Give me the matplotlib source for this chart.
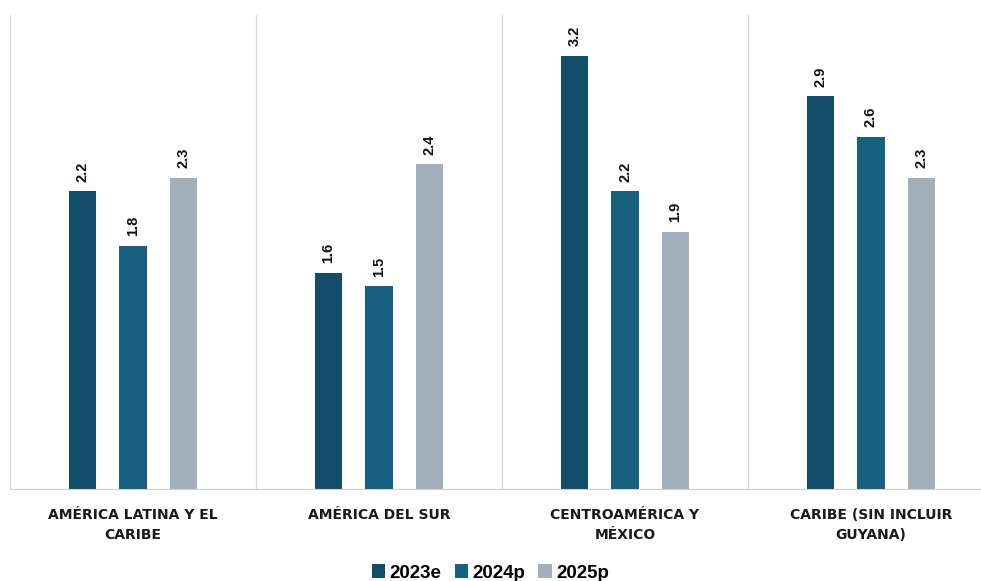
import numpy as np
import matplotlib.pyplot as plt
from matplotlib.patches import Patch

categories = ["AMÉRICA LATINA Y EL\nCARIBE", "AMÉRICA DEL SUR",
              "CENTROAMÉRICA Y\nMÉXICO", "CARIBE (SIN INCLUIR\nGUYANA)"]
series_names = ["2023e", "2024p", "2025p"]
values_2023e = [2.2, 1.6, 3.2, 2.9]
values_2024p = [1.8, 1.5, 2.2, 2.6]
values_2025p = [2.3, 2.4, 1.9, 2.3]
colors = ["#124e69", "#17607f", "#a3afbb"]


def main():
  plt.rcParams['font.family'] = ['Liberation Sans', 'DejaVu Sans']
  fig = plt.figure(figsize=(9.81, 5.81), dpi=100)
  ax = fig.add_axes([10 / 981, 91 / 581, 984 / 981, 475 / 581])

  x = np.arange(len(categories))
  step = 0.205
  width = 0.11
  all_values = [values_2023e, values_2024p, values_2025p]
  for i, (vals, color) in enumerate(zip(all_values, colors)):
    pos = x + (i - 1) * step
    ax.bar(pos, vals, width=width, color=color, zorder=3)
    for px, v in zip(pos, vals):
      ax.annotate("%.1f" % v, (px, v), xytext=(0, 7), textcoords="offset points",
                  rotation=90, ha="center", va="bottom", fontsize=10.5,
                  fontweight="bold", color="#111111")

  ax.set_xlim(-0.5, len(categories) - 0.5)
  ax.set_ylim(0, 3.5)
  for b in np.arange(-0.5, len(categories), 1.0):
    ax.axvline(b, color="#d9d9d9", linewidth=1, zorder=1)
  ax.axhline(0, color="#d0d0d0", linewidth=1.5, zorder=4)

  for s in ax.spines.values():
    s.set_visible(False)
  ax.set_yticks([])
  ax.set_xticks(x)
  ax.set_xticklabels(categories, fontsize=10, fontweight="bold", color="#1a1a1a",
                     family="DejaVu Sans", linespacing=1.55)
  ax.tick_params(axis="x", length=0, pad=13)

  handles = [Patch(facecolor=c, label=n) for c, n in zip(colors, series_names)]
  fig.legend(handles=handles, loc="lower center", bbox_to_anchor=(0.5, -0.03), ncol=3,
             frameon=False, prop={"weight": "bold", "size": 13.5},
             handlelength=0.7, handleheight=0.7, handletextpad=0.25, columnspacing=0.7)

  fig.savefig("out.png", dpi=100)


if __name__ == '__main__':
  main()
